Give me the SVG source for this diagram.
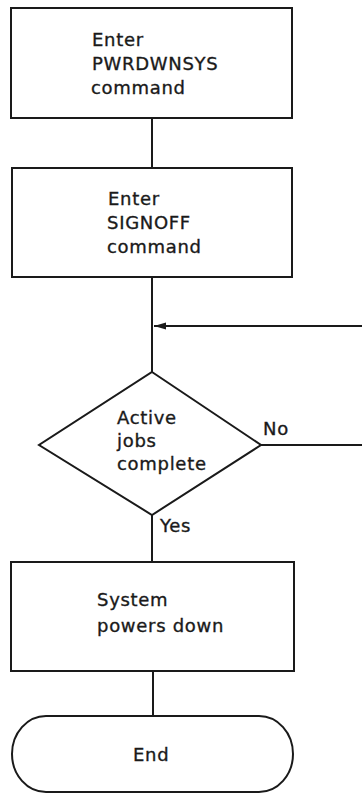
<svg xmlns="http://www.w3.org/2000/svg" width="362" height="794" viewBox="0 0 362 794">
  <style>
    .shape { fill: #ffffff; stroke: #1a1a1a; stroke-width: 2; }
    .line { fill: none; stroke: #1a1a1a; stroke-width: 2; }
    text { font-family: "DejaVu Sans", "Liberation Sans", sans-serif; font-size: 18px; fill: #1a1a1a; stroke: #1a1a1a; stroke-width: 0.35px; letter-spacing: 0.7px; }
  </style>
  <defs>
    <marker id="arrow" markerWidth="12" markerHeight="8" refX="12" refY="4" orient="auto" markerUnits="userSpaceOnUse">
      <path d="M0,0.6 L12,4 L0,7.4 Z" fill="#1a1a1a"/>
    </marker>
  </defs>

  <rect width="362" height="794" fill="#ffffff"/>

  <!-- connectors -->
  <g id="connectors">
    <line class="line" x1="152" y1="118" x2="152" y2="168"/>
    <line class="line" x1="152" y1="277" x2="152" y2="372"/>
    <line class="line" x1="362" y1="326" x2="154" y2="326" marker-end="url(#arrow)"/>
    <line class="line" x1="261" y1="445" x2="362" y2="445"/>
    <line class="line" x1="152" y1="515" x2="152" y2="562"/>
    <line class="line" x1="153" y1="671" x2="153" y2="716"/>
    <text x="263" y="435">No</text>
    <text x="160" y="532">Yes</text>
  </g>

  <!-- Enter PWRDWNSYS command -->
  <g id="pwrdwnsys">
    <rect class="shape" x="11" y="8" width="281" height="110"/>
    <text x="92" y="46">Enter</text>
    <text x="92" y="70">PWRDWNSYS</text>
    <text x="91" y="94">command</text>
  </g>

  <!-- Enter SIGNOFF command -->
  <g id="signoff">
    <rect class="shape" x="12" y="168" width="280" height="109"/>
    <text x="108" y="205">Enter</text>
    <text x="107" y="229">SIGNOFF</text>
    <text x="107" y="253">command</text>
  </g>

  <!-- Active jobs complete decision -->
  <g id="decision">
    <polygon class="shape" points="152,372 261,445 152,515 39,445"/>
    <text x="117" y="424">Active</text>
    <text x="117" y="447">jobs</text>
    <text x="117" y="470">complete</text>
  </g>

  <!-- System powers down -->
  <g id="powerdown">
    <rect class="shape" x="11" y="562" width="283" height="109"/>
    <text x="97" y="606">System</text>
    <text x="97" y="632">powers down</text>
  </g>

  <!-- End terminal -->
  <g id="end">
    <rect class="shape" x="12" y="716" width="281" height="76" rx="34" ry="38"/>
    <text x="133" y="761">End</text>
  </g>
</svg>
